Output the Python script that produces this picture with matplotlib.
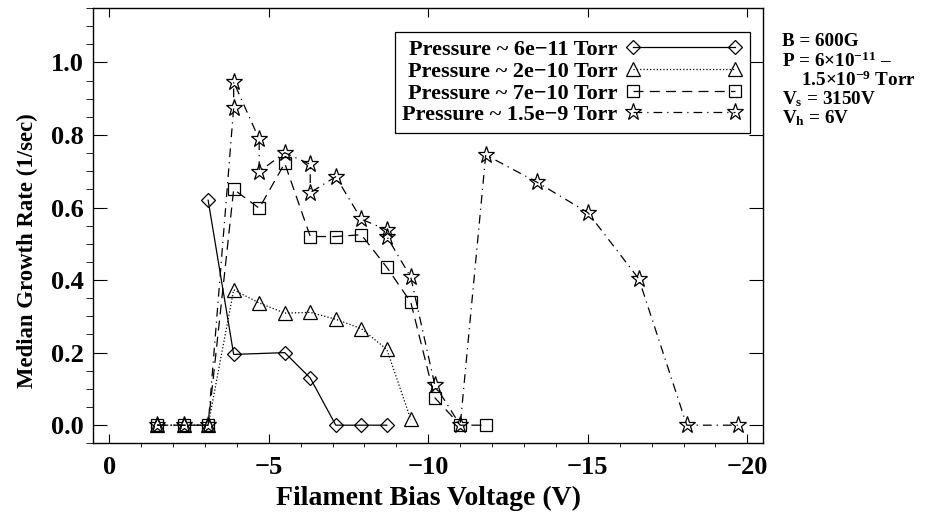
import matplotlib
matplotlib.use('Agg')
import matplotlib.pyplot as plt

plt.rcParams['font.family'] = ['Liberation Serif', 'DejaVu Serif']
plt.rcParams['font.weight'] = 'bold'
plt.rcParams['mathtext.fontset'] = 'custom'
plt.rcParams['mathtext.rm'] = 'Liberation Serif:bold'
plt.rcParams['mathtext.bf'] = 'Liberation Serif:bold'
plt.rcParams['mathtext.it'] = 'Liberation Serif:bold'

# data
v_6e11 = [-3.1, -3.9, -5.5, -6.3, -7.1, -7.9, -8.7]
r_6e11 = [0.62, 0.195, 0.20, 0.13, 0.0, 0.0, 0.0]

v_2e10 = [-1.5, -2.35, -3.1, -3.9, -4.7, -5.5, -6.3, -7.1, -7.9, -8.7, -9.45]
r_2e10 = [0.0, 0.0, 0.0, 0.373, 0.337, 0.309, 0.311, 0.292, 0.266, 0.209, 0.016]

v_7e10 = [-1.5, -2.35, -3.1, -3.9, -4.7, -5.5, -6.3, -7.1, -7.9, -8.7, -9.45, -10.2, -11.0, -11.8]
r_7e10 = [0.0, 0.0, 0.0, 0.65, 0.598, 0.722, 0.52, 0.52, 0.525, 0.435, 0.339, 0.076, 0.0, 0.0]

v_15e9 = [-1.5, -2.35, -3.1, -3.9, -3.9, -4.7, -4.7, -5.5, -6.3, -6.3, -7.1, -7.9, -8.7, -8.7,
          -9.45, -10.2, -11.0, -11.8, -13.4, -15.0, -16.6, -18.1, -19.7]
r_15e9 = [0.0, 0.0, 0.0, 0.875, 0.946, 0.788, 0.699, 0.751, 0.719, 0.641, 0.685, 0.568, 0.538, 0.52,
          0.408, 0.112, 0.0, 0.745, 0.67, 0.586, 0.403, 0.0, 0.0]

labels = ['Pressure ~ 6e\u221211 Torr', 'Pressure ~ 2e\u221210 Torr',
          'Pressure ~ 7e\u221210 Torr', 'Pressure ~ 1.5e\u22129 Torr']

fig = plt.figure(figsize=(9.3, 5.14), dpi=100)
ax = fig.add_axes([0.1003, 0.1375, 0.7205, 0.847])

kw = dict(color='black', mfc='none', mec='black', lw=0.9, mew=0.9)
ax.plot(v_6e11, r_6e11, ls='-', marker='D', ms=7, label=labels[0], **kw)
ax.plot(v_2e10, r_2e10, ls=':', marker='^', ms=10, label=labels[1], **kw)
ax.plot(v_7e10, r_7e10, ls=(0, (8, 5)), marker='s', ms=9, label=labels[2], **kw)
ax.plot(v_15e9, r_15e9, ls=(0, (7, 4, 1, 4)), marker='*', ms=12.5, label=labels[3], **kw)

ax.set_xlim(0.5, -20.5)
ax.set_ylim(-0.05, 1.15)
ax.set_xticks([0, -5, -10, -15, -20])
ax.set_xticks(range(0, -21, -1), minor=True)
ax.set_yticks([0.0, 0.2, 0.4, 0.6, 0.8, 1.0])
ax.set_yticklabels(['0.0', '0.2', '0.4', '0.6', '0.8', '1.0'])
ax.set_yticks([i * 0.05 for i in range(-1, 24)], minor=True)
ax.tick_params(direction='in', top=True, right=True, labelsize=19, width=0.8)
ax.tick_params(axis='x', which='major', length=6.5, pad=9)
ax.tick_params(axis='x', which='minor', length=3)
ax.tick_params(axis='y', which='major', length=10, pad=7)
ax.tick_params(axis='y', which='minor', length=5)
for s in ax.spines.values():
    s.set_linewidth(1.0)

ax.set_xlabel('Filament Bias Voltage (V)', fontsize=20, fontweight='bold', labelpad=5)
ax.set_ylabel('Median Growth Rate (1/sec)', fontsize=16.4, fontweight='bold')
ax.yaxis.set_label_coords(-0.082, 0.442)

leg = ax.legend(loc='upper right', bbox_to_anchor=(0.980, 0.945), borderaxespad=0,
                markerfirst=False, numpoints=2, fontsize=16, frameon=True, fancybox=False,
                edgecolor='black', handlelength=5.2, handletextpad=0.4, labelspacing=0.05,
                borderpad=0.35)
leg.get_frame().set_linewidth(0.9)
leg.get_frame().set_alpha(1)
for t in leg.get_texts():
    t.set_ha('right')

notes = ['B = 600G', 'P = 6\u00d710$^{\u221211}$ \u2013', '    1.5\u00d710$^{\u22129}$ Torr',
         'V$_{\\rm s}$ = 3150V', 'V$_{\\rm h}$ = 6V']
ys = [42, 61, 80, 99, 118]
for txt, yp in zip(notes, ys):
    fig.text(782 / 930, 1 - yp / 514, txt, fontsize=13.8, ha='left', va='center')

fig.savefig('out.png', dpi=100)
